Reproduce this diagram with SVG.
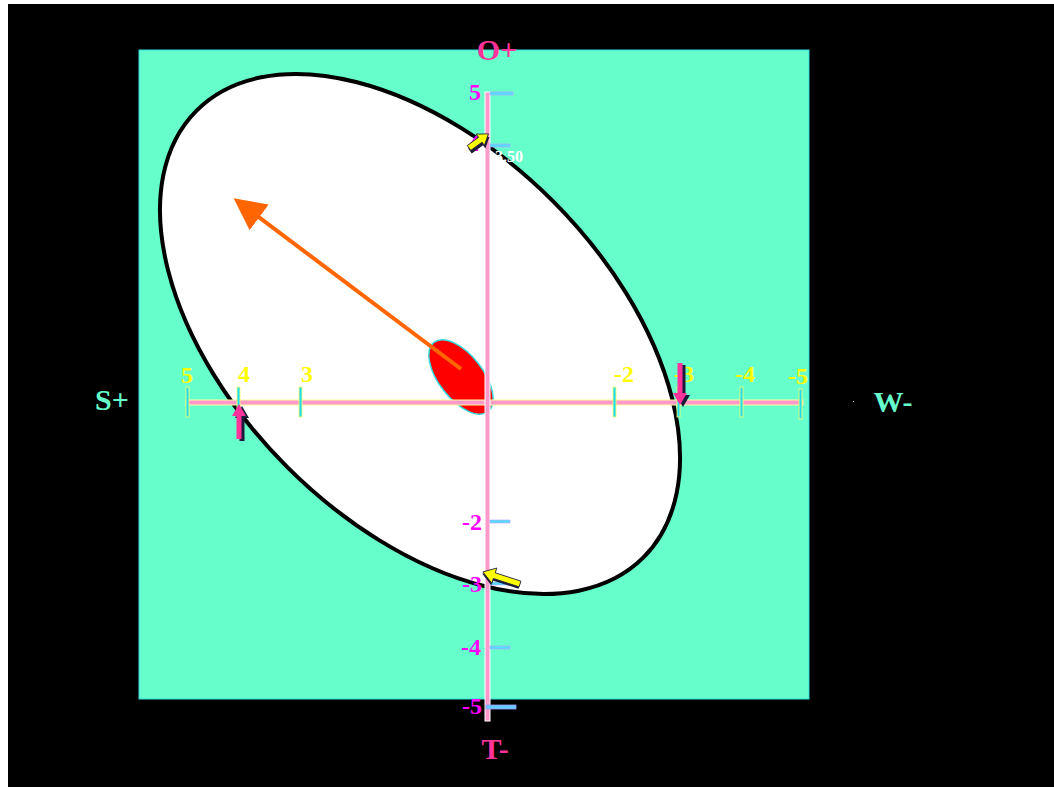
<svg xmlns="http://www.w3.org/2000/svg" width="1054" height="787" viewBox="0 0 1054 787">
<defs>
<style>
.tl{font-family:"Liberation Serif",serif;font-weight:bold;font-size:24px}
.yl{fill:#ffff00;text-anchor:middle}
.ml{fill:#ff00ff;text-anchor:end}
.big{font-family:"Liberation Serif",serif;font-weight:bold;font-size:30px}
.htick{fill:#22ddee;stroke:#ffff66;stroke-width:0.8}
.vtick{fill:#55ddff;stroke:#bb99ff;stroke-width:0.6}
.sh{fill:#1a1a3a}
.pk{fill:#ff3399}
.yw{fill:#ffff00;stroke:#1a1a3a;stroke-width:0.8}
</style>
<marker id="oh" markerWidth="8" markerHeight="8" refX="6" refY="4" orient="auto" markerUnits="strokeWidth">
<path d="M0,0 L8,4 L0,8 z" fill="#ff6600"/>
</marker>
</defs>
<rect x="0" y="0" width="1054" height="787" fill="#ffffff"/>
<rect x="8" y="4" width="1046" height="783" fill="#000000"/>
<rect id="field" x="139" y="50" width="670" height="649" fill="#66ffcc" stroke="#33dddd" stroke-width="1"/>
<g id="ellipse">
<ellipse cx="420" cy="334" rx="316" ry="188" transform="rotate(45 420 334)" fill="#ffffff" stroke="#000000" stroke-width="4"/>
</g>
<g id="core">
<ellipse cx="461" cy="377" rx="44" ry="22" transform="rotate(52 461 377)" fill="#ff0000" stroke="#33dddd" stroke-width="1.5"/>
</g>
<g id="axes">
<rect x="186" y="400" width="617" height="5" fill="#ff99cc" stroke="#ffff99" stroke-width="1"/>
<rect x="485" y="92" width="5" height="629" fill="#ff99cc" stroke="#ffffff" stroke-width="1"/>
</g>
<g id="hticks">
<rect class="htick" x="186" y="387" width="3" height="30"/>
<rect class="htick" x="237" y="387" width="3" height="30"/>
<rect class="htick" x="299" y="387" width="3" height="30"/>
<rect class="htick" x="613" y="387" width="3" height="30"/>
<rect class="htick" x="677" y="387" width="3" height="30"/>
<rect class="htick" x="740" y="387" width="3" height="30"/>
<rect class="htick" x="799" y="389" width="3" height="30"/>
</g>
<g id="vticks">
<rect class="vtick" x="490" y="92" width="23" height="3"/>
<rect class="vtick" x="490" y="144" width="20" height="3"/>
<rect class="vtick" x="490" y="520" width="20" height="3"/>
<rect class="vtick" x="490" y="582" width="20" height="3"/>
<rect class="vtick" x="490" y="646" width="20" height="3"/>
<rect x="486" y="705" width="30" height="4" fill="#66ccff" stroke="#9999ff" stroke-width="0.8"/>
</g>
<g id="hlabels" class="tl yl">
<text x="187" y="383">5</text>
<text x="244" y="382">4</text>
<text x="307" y="382">3</text>
<text x="624" y="382">-2</text>
<text x="684" y="382">-3</text>
<text x="745" y="382">-4</text>
<text x="798" y="384">-5</text>
</g>
<g id="vlabels" class="tl ml">
<text x="481" y="100">5</text>
<text x="480" y="151">4</text>
<text x="482" y="530">-2</text>
<text x="482" y="592">-3</text>
<text x="481" y="655">-4</text>
<text x="482" y="714">-5</text>
</g>
<text id="val" x="495" y="162" font-family="Liberation Serif,serif" font-weight="bold" font-size="16" fill="#ffffff">3.50</text>
<g id="connectors">
<line x1="461" y1="369" x2="240" y2="203" stroke="#ff6600" stroke-width="4" marker-end="url(#oh)"/>
<g id="pinkup" transform="translate(239 439) rotate(-90)">
<path class="sh" transform="translate(-2 3)" d="M0,-2.5 L23,-2.5 L23,-7 L35,0 L23,7 L23,2.5 L0,2.5Z"/>
<path class="pk" d="M0,-2.5 L23,-2.5 L23,-7 L35,0 L23,7 L23,2.5 L0,2.5Z"/>
</g>
<g id="pinkdown" transform="translate(680 363) rotate(90)">
<path class="sh" transform="translate(2 -3)" d="M0,-2.5 L30,-2.5 L30,-7 L42,0 L30,7 L30,2.5 L0,2.5Z"/>
<path class="pk" d="M0,-2.5 L30,-2.5 L30,-7 L42,0 L30,7 L30,2.5 L0,2.5Z"/>
</g>
<g id="yarrow1" transform="translate(469 148) rotate(-36)">
<path class="sh" transform="translate(-1 3)" d="M0,-3 L14,-3 L14,-7 L24,0 L14,7 L14,3 L0,3Z"/>
<path class="yw" d="M0,-3 L14,-3 L14,-7 L24,0 L14,7 L14,3 L0,3Z"/>
</g>
<g id="yarrow2" transform="translate(520 584) rotate(198)">
<path class="sh" transform="translate(0 -2)" d="M0,-3 L27,-3 L27,-8 L39,0 L27,8 L27,3 L0,3Z"/>
<path class="yw" d="M0,-3 L27,-3 L27,-8 L39,0 L27,8 L27,3 L0,3Z"/>
</g>
</g>
<g id="dirlabels" class="big">
<text x="497" y="60" text-anchor="middle" fill="#ff3399">O+</text>
<text x="495" y="759" text-anchor="middle" fill="#ff3399">T-</text>
<text x="112" y="410" text-anchor="middle" fill="#66ffcc">S+</text>
<text x="893" y="412" text-anchor="middle" fill="#66ffcc">W-</text>
</g>
<rect x="853" y="401" width="1" height="1" fill="#cccccc"/>
</svg>
